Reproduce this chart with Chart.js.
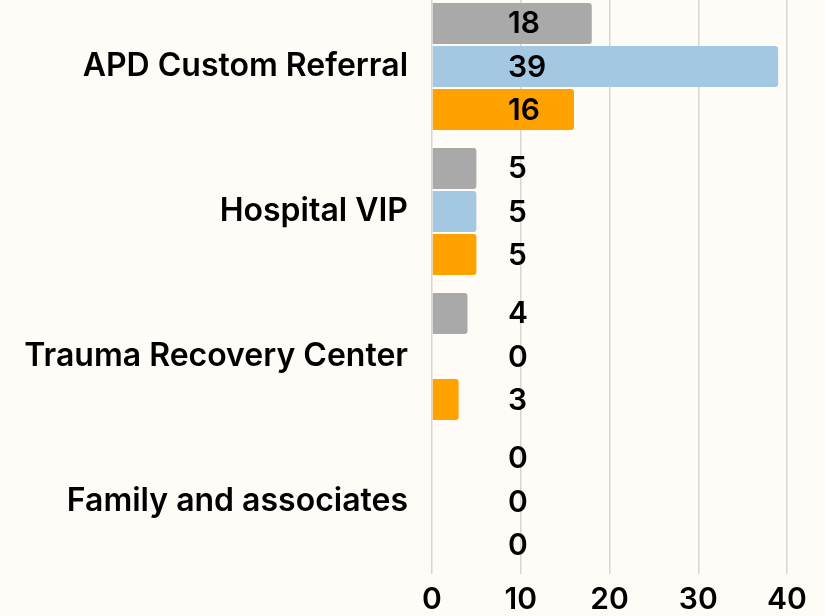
<!DOCTYPE html>
<html>
<head>
<meta charset="utf-8">
<script src="https://cdn.jsdelivr.net/npm/chart.js@4"></script>
<style>
  html, body { margin: 0; padding: 0; background: #fffbf6; overflow: hidden; }
  #wrap { position: absolute; left: 0; top: -6px; width: 825px; height: 632px; }
</style>
</head>
<body>
<div id="wrap"><canvas id="chart"></canvas></div>
<script>
var categories = ['APD Custom Referral', 'Hospital VIP', 'Trauma Recovery Center', 'Family and associates'];
var seriesNames = ['Series 1', 'Series 2', 'Series 3'];
var greyValues = [18, 5, 4, 0];
var blueValues = [39, 5, 0, 0];
var orangeValues = [16, 5, 3, 0];
var xTicks = [0, 10, 20, 30, 40];

var FONT = 'Inter, "Noto Sans", sans-serif';

// value labels, left aligned a little right of the zero line
var valueLabels = {
  id: 'valueLabels',
  afterDatasetsDraw: function(chart) {
    var ctx = chart.ctx;
    var x0 = chart.scales.x.getPixelForValue(0);
    ctx.save();
    ctx.font = '600 30px ' + FONT;
    ctx.fillStyle = '#000';
    ctx.textAlign = 'left';
    ctx.textBaseline = 'middle';
    chart.data.datasets.forEach(function(ds, i) {
      var meta = chart.getDatasetMeta(i);
      meta.data.forEach(function(bar, j) {
        ctx.fillText(String(ds.data[j]), x0 + 76, bar.y + 1);
      });
    });
    ctx.restore();
  }
};

var ctx = document.getElementById('chart').getContext('2d');
var chart = new Chart(ctx, {
  type: 'bar',
  data: {
    labels: categories,
    datasets: [
      { label: seriesNames[0], data: greyValues, backgroundColor: '#a9a9a9' },
      { label: seriesNames[1], data: blueValues, backgroundColor: '#a5c8e2' },
      { label: seriesNames[2], data: orangeValues, backgroundColor: '#ffa200' }
    ]
  },
  options: {
    indexAxis: 'y',
    responsive: true,
    maintainAspectRatio: false,
    animation: false,
    layout: { padding: { top: 0, right: 38, bottom: 0, left: 0 } },
    datasets: {
      bar: {
        categoryPercentage: 0.89,
        barPercentage: 0.953,
        borderRadius: 3,
        borderSkipped: 'start'
      }
    },
    plugins: {
      legend: { display: false },
      tooltip: { enabled: false }
    },
    scales: {
      x: {
        min: 0,
        max: 40,
        afterBuildTicks: function(s) { s.ticks = xTicks.map(function(v) { return { value: v }; }); },
        grid: { color: '#d9d5d0', lineWidth: 1.5, drawTicks: false },
        border: { display: false },
        ticks: { color: '#000', padding: 8, font: { family: FONT, size: 30, weight: '600' } }
      },
      y: {
        afterFit: function(s) { s.width = 432; s.paddingTop = 0; s.paddingBottom = 0; },
        grid: { display: false, drawTicks: false },
        border: { display: false },
        ticks: { color: '#000', padding: 24, font: { family: FONT, size: 32, weight: '600' } }
      }
    }
  },
  plugins: [valueLabels]
});
</script>
</body>
</html>
